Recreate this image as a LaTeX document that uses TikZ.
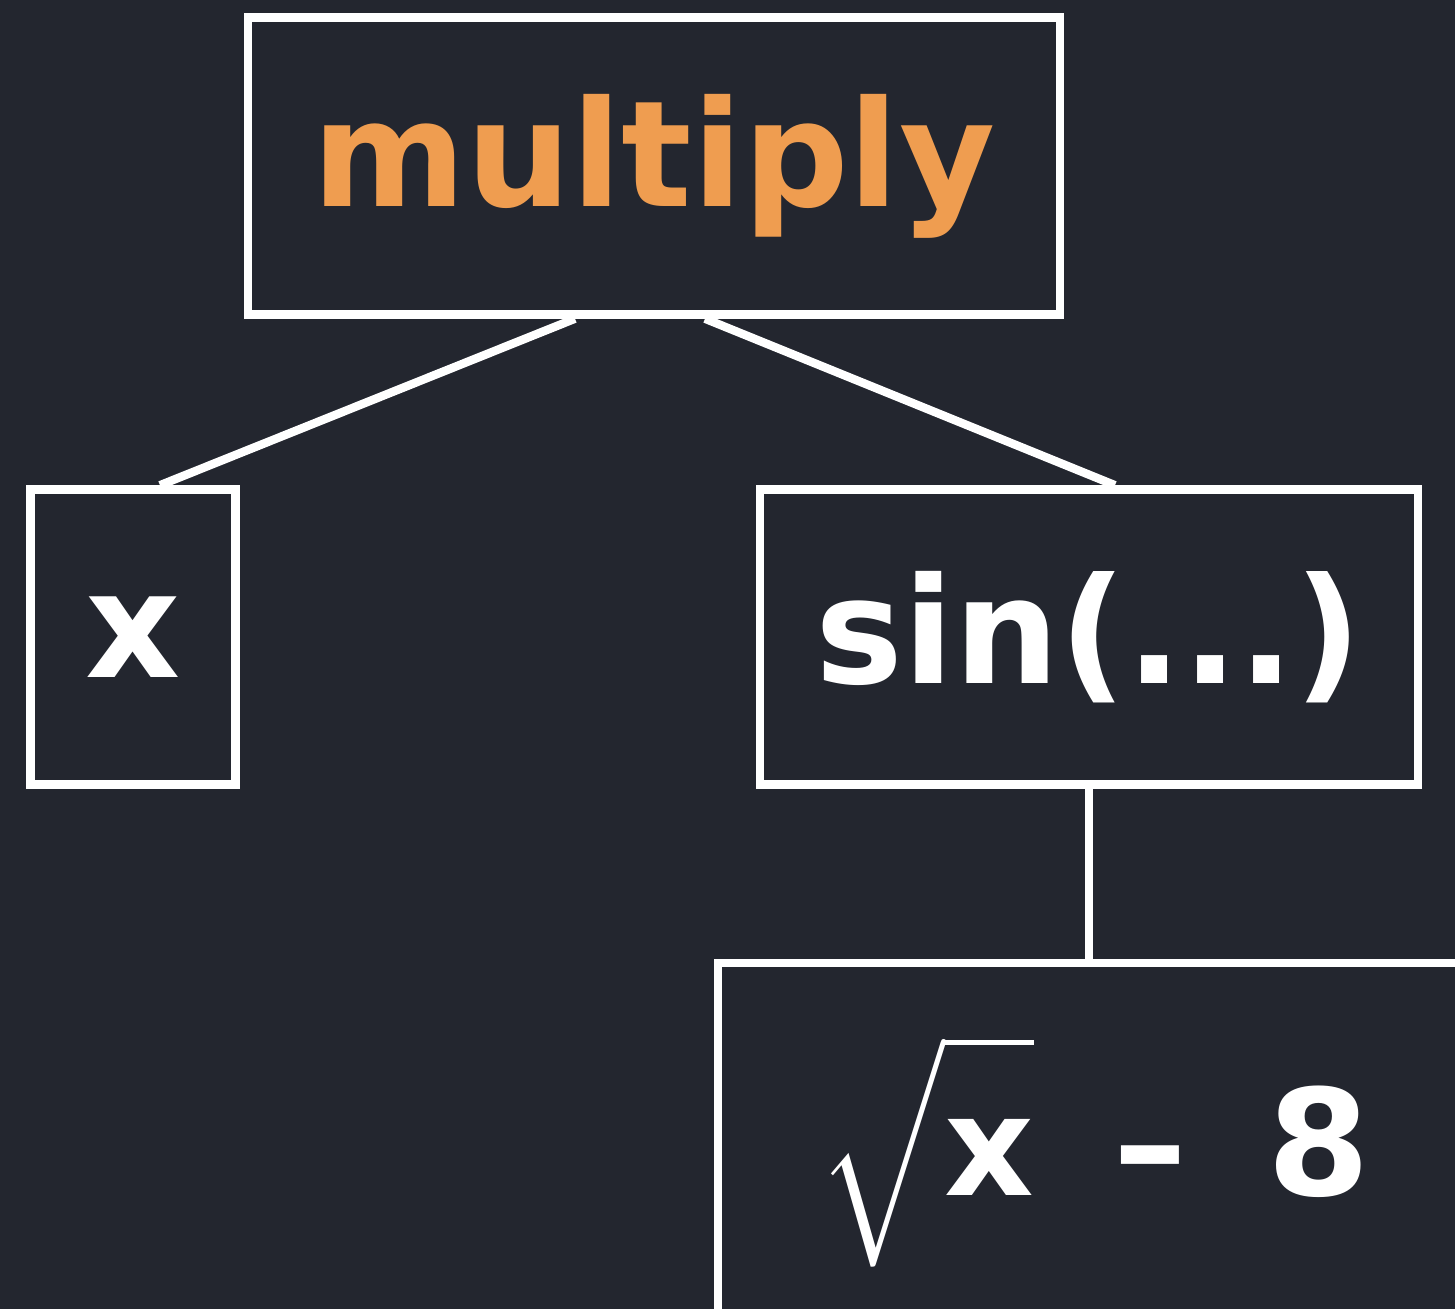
\documentclass[tikz,border=0pt]{standalone}
\usepackage{graphicx}
\usepackage{fontspec}
\setmainfont{DejaVu Sans}
\definecolor{board}{HTML}{23262F}
\definecolor{chalkorange}{HTML}{EF9D50}
\begin{document}
\begin{tikzpicture}[every node/.style={font=\fontsize{42}{50}\selectfont\bfseries, text=white},
  chalkbox/.style={draw=white, line width=2.4pt, inner sep=0pt},
  chalkline/.style={draw=white, line width=2.4pt}]
  \path[use as bounding box, fill=board] (0,0) rectangle (14.55,13.09);
  \clip (0,0) rectangle (14.55,13.09);
  \node[chalkbox, minimum width=8.12cm, minimum height=2.97cm, text=chalkorange] (mult) at (6.54,11.43) {multiply};
  \node[chalkbox, minimum width=2.05cm, minimum height=2.95cm] (xleaf) at (1.33,6.72) {x};
  \node[chalkbox, minimum width=6.58cm, minimum height=2.95cm] (sine) at (10.89,6.72) {sin(...)};
  \node[chalkbox, minimum width=7.52cm, minimum height=3.76cm] (root) at (10.94,1.58)
    {\scalebox{3.6}{\fontsize{11}{12}\selectfont$\sqrt{\mbox{x}\vphantom{\big|}}$}\hspace{0.8cm}–\hspace{0.8cm}8\hspace{0.2cm}};
  \draw[chalkline] ([xshift=-0.79cm]mult.south) -- ([xshift=0.27cm]xleaf.north);
  \draw[chalkline] ([xshift=0.51cm]mult.south) -- ([xshift=0.26cm]sine.north);
  \draw[chalkline] (sine.south) -- (sine.south |- root.north);
\end{tikzpicture}
\end{document}
